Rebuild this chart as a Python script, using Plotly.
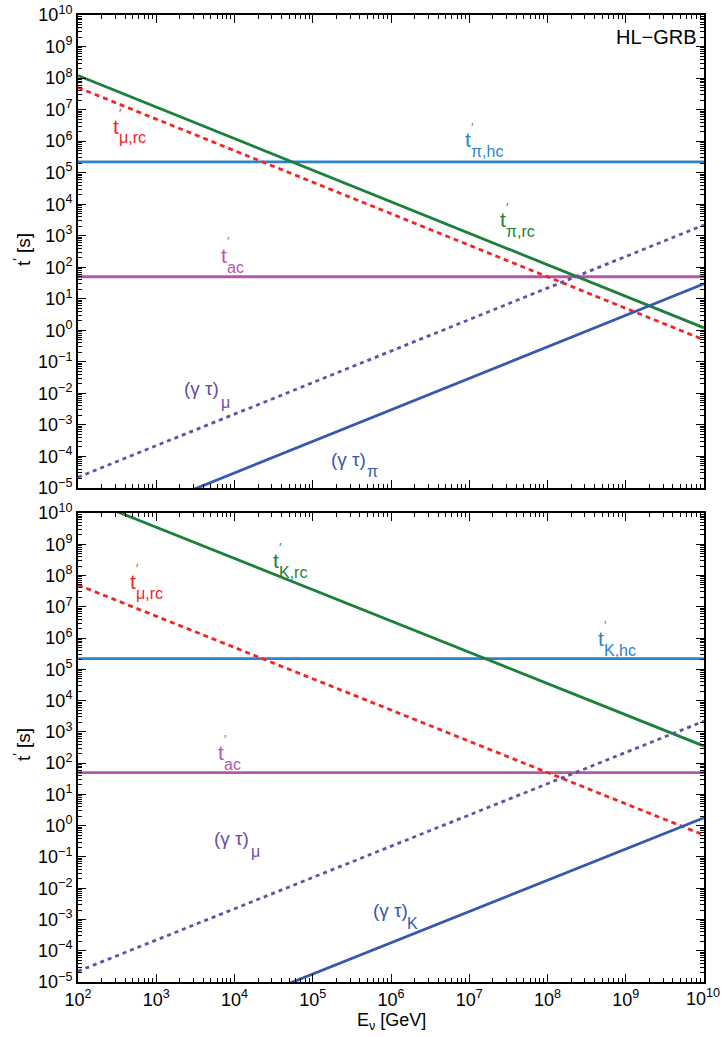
import plotly.graph_objects as go

# ---------------- data ----------------
E_ends = [1e2, 1e10]                 # GeV, the lines are straight in log-log

# upper panel (pions)
t_pi_rc = [1.2e8, 1.2]               # t'_pi,rc
t_mu_rc = [5.0e7, 0.5]               # t'_mu,rc
t_pi_hc = [2.2e5, 2.2e5]             # t'_pi,hc
t_ac = [50.0, 50.0]                  # t'_ac
gt_mu = [2.2e-5, 2.2e3]              # (gamma tau)_mu
gt_pi = [3.0e-7, 30.0]               # (gamma tau)_pi

# lower panel (kaons)
t_K_rc = [3.5e10, 350.0]             # t'_K,rc
t_K_hc = [2.2e5, 2.2e5]              # t'_K,hc
gt_K = [1.8e-8, 1.8]                 # (gamma tau)_K

x_exps = list(range(2, 11))
y_exps = list(range(-5, 11))

def pow10(k):
    return "10<sup>%s</sup>" % str(k).replace("-", "−")

x_ticktext = [pow10(k) for k in x_exps[:-1]] + [""]   # last one drawn below
y_ticktext = [pow10(k) for k in y_exps]

# ---------------- styles ----------------
GREEN = "#1C7F3A"
RED = "#F22424"
LBLUE = "#2B84C9"
MAGENTA = "#B556A6"
PURPLE = "#6B4BAA"
DBLUE = "#3558B1"
FONT = "Liberation Sans"

W, H = 722, 1037
ML, MR, MT, MB = 78, 18, 15, 55
PW, PH = W - ML - MR, H - MT - MB      # 626 x 967

fig = go.Figure()

def line(y, color, dash, axis):
    fig.add_trace(go.Scatter(
        x=E_ends, y=y, mode="lines",
        line=dict(color=color, width=2.8, dash=dash),
        xaxis="x" if axis == 1 else "x2",
        yaxis="y" if axis == 1 else "y2",
        showlegend=False, hoverinfo="skip"))

# top
line(t_pi_hc, LBLUE, "solid", 1)
line(t_ac, MAGENTA, "solid", 1)
line(t_pi_rc, GREEN, "solid", 1)
line(t_mu_rc, RED, "5px,4px", 1)
line(gt_mu, PURPLE, "4px,4px", 1)
line(gt_pi, DBLUE, "solid", 1)
# bottom
line(t_K_hc, LBLUE, "solid", 2)
line(t_ac, MAGENTA, "solid", 2)
line(t_K_rc, GREEN, "solid", 2)
line(t_mu_rc, RED, "5px,4px", 2)
line(gt_mu, PURPLE, "4px,4px", 2)
line(gt_K, DBLUE, "solid", 2)

# ---------------- axes ----------------
# reference pixel rows: top panel 15..488, bottom panel 513..982
top_dom = [(982 - 488) / PH, 1.0]
bot_dom = [0.0, (982 - 513) / PH]

common = dict(
    type="log", ticks="inside", ticklen=8, tickwidth=1.3,
    tickcolor="black", mirror="ticks", showline=True, linecolor="black",
    linewidth=2, showgrid=False, zeroline=False, automargin=False,
    ticklabeloverflow="allow",
    tickfont=dict(family=FONT, size=18, color="black"),
    minor=dict(ticks="inside", ticklen=4, tickwidth=1, tickcolor="black",
               dtick="D1", showgrid=False),
)
xcommon = dict(common, range=[x_exps[0], x_exps[-1]], tickmode="array",
               tickvals=[10.0 ** k for k in x_exps], ticktext=x_ticktext)
ycommon = dict(common, range=[y_exps[0], y_exps[-1]], tickmode="array",
               tickvals=[10.0 ** k for k in y_exps], ticktext=y_ticktext)

fig.update_layout(
    width=W, height=H,
    margin=dict(l=ML, r=MR, t=MT, b=MB, autoexpand=False),
    paper_bgcolor="white", plot_bgcolor="white",
    showlegend=False,
    xaxis=dict(xcommon, anchor="y", showticklabels=False),
    yaxis=dict(ycommon, domain=top_dom, anchor="x"),
    xaxis2=dict(xcommon, anchor="y2", showticklabels=True),
    yaxis2=dict(ycommon, domain=bot_dom, anchor="x2"),
)

# ---------------- labels (positions in reference pixels) ----------------
ann = []

def px(xp, yp):
    return (xp - ML) / PW, (H - MB - yp) / PH

def text_at(xp, yp, text, color, size, xanchor="left", angle=0):
    fx, fy = px(xp, yp)
    ann.append(dict(x=fx, y=fy, xref="paper", yref="paper", text=text,
                    showarrow=False, xanchor=xanchor, yanchor="middle",
                    textangle=angle, borderpad=0,
                    font=dict(family=FONT, size=size, color=color)))

def tlabel(xl, yc, sub, color):
    text_at(xl - 1, yc, "t", color, 21)
    text_at(xl + 5, yc - 13, "′", color, 13)
    text_at(xl + 5, yc + 12, sub, color, 16)

def gtlabel(xl, yc, sub, color, subx, suby):
    text_at(xl, yc, "(γ τ)", color, 19)
    text_at(subx, suby, sub, color, 16)

# top panel
tlabel(113, 126, "μ,rc", RED)
tlabel(465, 140, "π,hc", LBLUE)
tlabel(500, 220, "π,rc", GREEN)
tlabel(221, 255, "ac", MAGENTA)
gtlabel(183, 389, "μ", PURPLE, 220, 402)
gtlabel(330, 460, "π", DBLUE, 366, 472)
text_at(698, 37, "HL−GRB", "black", 20, xanchor="right")

# bottom panel
tlabel(273, 560, "K,rc", GREEN)
tlabel(130, 581, "μ,rc", RED)
tlabel(598, 638, "K,hc", LBLUE)
tlabel(218, 752, "ac", MAGENTA)
gtlabel(213, 838, "μ", PURPLE, 250, 851)
gtlabel(372, 910, "K", DBLUE, 406, 923)

# last x tick label, kept inside the page edge as in the reference
text_at(721, 997, pow10(x_exps[-1]), "black", 18, xanchor="right")

# axis titles
text_at(22, 250, "t<sup>′</sup> [s]", "black", 19, xanchor="center", angle=-90)
text_at(22, 745, "t<sup>′</sup> [s]", "black", 19, xanchor="center", angle=-90)
text_at(391, 1021, "E<sub>ν</sub> [GeV]", "black", 18, xanchor="center")

fig.update_layout(annotations=ann)
# remove the default 8px body margin so the figure fills the window exactly
fig.write_html("out.html", config={"displayModeBar": False},
               post_script="document.body.style.margin='0px';")
